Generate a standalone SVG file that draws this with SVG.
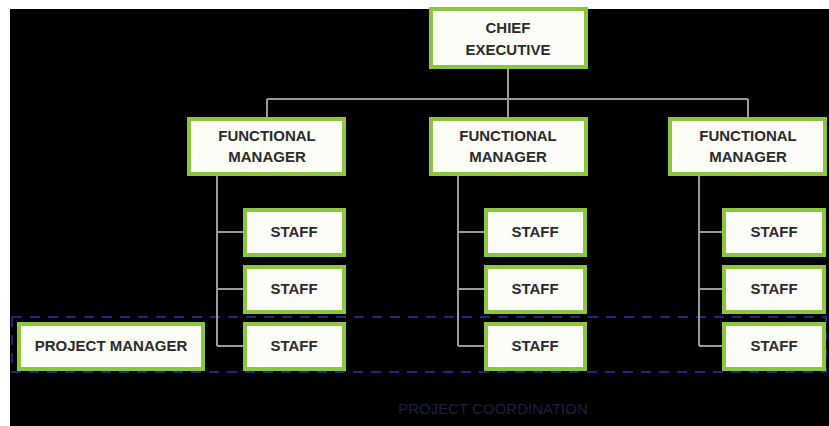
<svg xmlns="http://www.w3.org/2000/svg" width="829" height="426" viewBox="0 0 829 426">
<style>
.box{fill:#fdfdf8;stroke:#8cc63f;stroke-width:4}
.t{font-family:"Liberation Sans",Arial,sans-serif;font-weight:bold;font-size:15px;fill:#2b2b2b;text-anchor:middle}
.c{fill:none;stroke:#9a9a9a;stroke-width:2}
</style>
<rect x="0" y="0" width="829" height="426" fill="#fff"/>
<rect x="10" y="9" width="819" height="417" fill="#000"/>
<g id="coordination">
<rect x="12" y="317" width="814" height="55" fill="none" stroke="#1a2a7a" stroke-width="2" stroke-dasharray="10 8"/>
<text x="493" y="414" font-family="Liberation Sans,Arial,sans-serif" font-size="15" fill="#142240" text-anchor="middle">PROJECT COORDINATION</text>
</g>
<g id="connectors">
<path class="c" d="M508 68V99M267 99H748M267 99V117M508 99V117M748 99V117"/>
<path class="c" d="M217 175V346M217 232H245M217 289H245M217 346H245"/>
<path class="c" d="M458 175V346M458 232H486M458 289H486M458 346H486"/>
<path class="c" d="M699 175V346M699 232H724M699 289H724M699 346H724"/>
</g>
<g id="chief"><rect class="box" x="431" y="9" width="155" height="58"/><text class="t" x="508" y="33">CHIEF</text><text class="t" x="508" y="55">EXECUTIVE</text></g>
<g id="fm1"><rect class="box" x="189" y="119" width="155" height="55"/><text class="t" x="267" y="141">FUNCTIONAL</text><text class="t" x="267" y="162">MANAGER</text></g>
<g id="fm2"><rect class="box" x="431" y="119" width="155" height="55"/><text class="t" x="508" y="141">FUNCTIONAL</text><text class="t" x="508" y="162">MANAGER</text></g>
<g id="fm3"><rect class="box" x="670" y="119" width="155" height="55"/><text class="t" x="748" y="141">FUNCTIONAL</text><text class="t" x="748" y="162">MANAGER</text></g>
<g id="s11"><rect class="box" x="245" y="210" width="99" height="45"/><text class="t" x="294" y="237">STAFF</text></g>
<g id="s12"><rect class="box" x="245" y="267" width="99" height="45"/><text class="t" x="294" y="294">STAFF</text></g>
<g id="s13"><rect class="box" x="245" y="324" width="99" height="45"/><text class="t" x="294" y="351">STAFF</text></g>
<g id="s21"><rect class="box" x="486" y="210" width="99" height="45"/><text class="t" x="535" y="237">STAFF</text></g>
<g id="s22"><rect class="box" x="486" y="267" width="99" height="45"/><text class="t" x="535" y="294">STAFF</text></g>
<g id="s23"><rect class="box" x="486" y="324" width="99" height="45"/><text class="t" x="535" y="351">STAFF</text></g>
<g id="s31"><rect class="box" x="724" y="210" width="100" height="45"/><text class="t" x="774" y="237">STAFF</text></g>
<g id="s32"><rect class="box" x="724" y="267" width="100" height="45"/><text class="t" x="774" y="294">STAFF</text></g>
<g id="s33"><rect class="box" x="724" y="324" width="100" height="45"/><text class="t" x="774" y="351">STAFF</text></g>
<g id="pm"><rect class="box" x="19" y="324" width="184" height="45"/><text class="t" x="111" y="351">PROJECT MANAGER</text></g>
</svg>
